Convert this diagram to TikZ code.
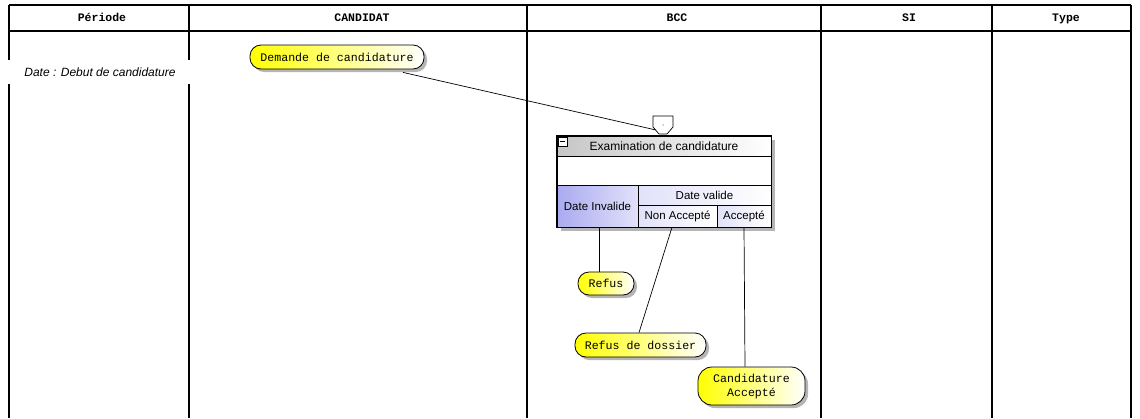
\documentclass[tikz,border=0pt]{standalone}
\usepackage{fontspec}
\setmainfont{Liberation Sans}
\setmonofont{Liberation Mono}
\usetikzlibrary{shadows}
\definecolor{lav}{RGB}{170,170,240}
\definecolor{lavlight}{RGB}{225,225,250}
\definecolor{shad}{RGB}{150,150,150}
\tikzset{
  frame/.style={line width=1.6pt},
  hdr/.style={anchor=base, font=\ttfamily\bfseries\fontsize{11.5}{13}\selectfont},
  pill/.style={draw, line width=0.8pt, rounded corners=11pt, shading=axis, left color=yellow, middle color=yellow!65!white, right color=white,
    font=\ttfamily\fontsize{11.6}{14}\selectfont, align=center, inner sep=0pt,
    drop shadow={shadow xshift=3pt, shadow yshift=-3pt, fill=shad, opacity=0.7}},
  cell/.style={draw, line width=0.6pt, inner sep=0pt, font=\fontsize{11.5}{13}\selectfont},
  conn/.style={line width=0.7pt},
}
\begin{document}
\begin{tikzpicture}[x=1pt,y=-1pt]
\useasboundingbox (0,0) rectangle (1140,418);
\fill[white] (0,0) rectangle (1140,418);
% swimlane frame
\draw[frame] (9,5) -- (1131,5);
\draw[frame] (9,31) -- (1131,31);
\foreach \x in {9,189,527,821,992,1131} \draw[frame] (\x,5) -- (\x,418);
\node[hdr] (h1) at (102,21) {Période};
\node[hdr] (h2) at (362,21) {CANDIDAT};
\node[hdr] (h3) at (677,21) {BCC};
\node[hdr] (h4) at (909,21) {SI};
\node[hdr] (h5) at (1066,21) {Type};
% period label
\node[fill=white, minimum width=188pt, minimum height=24pt, inner sep=0pt,
  font=\itshape\fontsize{12}{14}\selectfont] (date) at (100,72) {Date : Debut de candidature};
% nodes
\node[pill, minimum width=174pt, minimum height=24pt] (demande) at (337,57) {Demande de candidature};
\node[pill, minimum width=56pt, minimum height=23pt] (refus) at (606,283.5) {Refus};
\node[pill, minimum width=131pt, minimum height=24pt] (dossier) at (640.5,345) {Refus de dossier};
\node[pill, rounded corners=14pt, minimum width=107pt, minimum height=38pt] (cand) at (751.5,386) {Candidature\\Accepté};
% shield (entry point)
\draw[line width=0.7pt, fill=white] (653,116) -- (673,116) -- (673,127) -- (667,134) -- (659,134) -- (653,127) -- cycle;
\coordinate (shieldin) at (656,130);
\fill (663,125) circle (0.5pt);
% box shadow
\fill[shad, opacity=0.7] (561,140) rectangle (775,231);
% box
\node[cell, fill=white, minimum width=214pt, minimum height=91pt] (exam) at (664,181.5) {};
\node[cell, shading=axis, left color=gray!45, right color=white, minimum width=214pt, minimum height=20pt, font=\fontsize{12}{14}\selectfont] (title) at (664,146) {Examination de candidature};
\draw[line width=0.5pt, fill=white] (558,137) rectangle (567,146);
\draw[line width=0.6pt] (560,141.5) -- (565,141.5);
\node[cell, shading=axis, left color=lav, right color=lavlight, minimum width=81pt, minimum height=42pt] (invalide) at (597.5,206) {Date Invalide};
\node[cell, shading=axis, left color=lavlight, right color=white, minimum width=133pt, minimum height=20pt] (valide) at (704.5,195) {Date valide};
\node[cell, shading=axis, left color=lavlight, right color=white, minimum width=79pt, minimum height=22pt] (nonacc) at (677.5,216) {Non Accepté};
\node[cell, shading=axis, left color=lavlight, right color=white, minimum width=54pt, minimum height=22pt] (acc) at (744,216) {Accepté};
\draw[line width=0.6pt] (exam.north west) rectangle (exam.south east);
% connectors
\draw[conn] ([xshift=66pt,yshift=-3pt]demande.south) -- (shieldin);
\draw[conn] ([xshift=1.5pt]invalide.south) -- ([xshift=-7pt]refus.north);
\draw[conn] ([xshift=-5.5pt]nonacc.south) -- ([xshift=-1.5pt]dossier.north);
\draw[conn] (acc.south) -- ([xshift=-6.5pt]cand.north);
\end{tikzpicture}
\end{document}
